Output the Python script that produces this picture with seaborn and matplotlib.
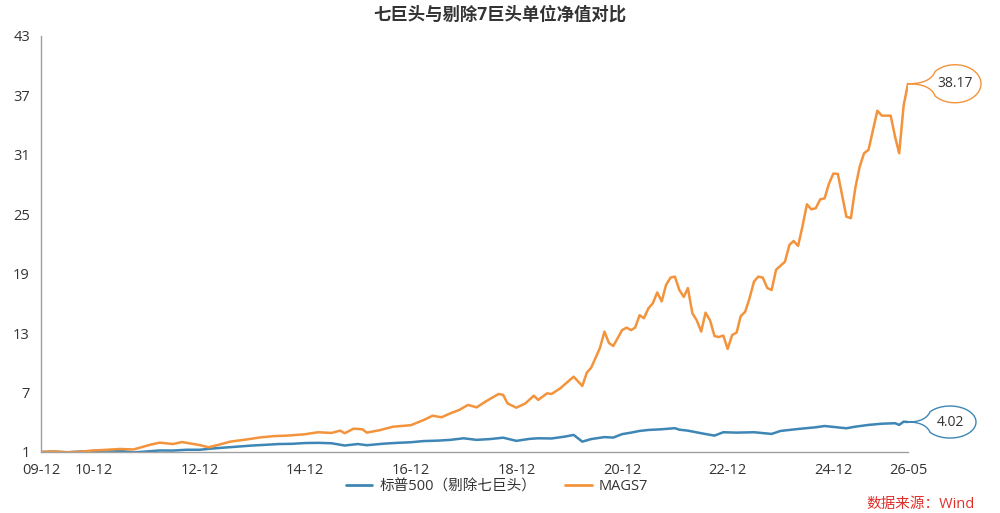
import numpy as np
import pandas as pd
import matplotlib
matplotlib.use('Agg')
import matplotlib.pyplot as plt
import matplotlib.transforms as mtransforms
import matplotlib.dates as mdates
from matplotlib.path import Path
from matplotlib.patches import PathPatch
import seaborn as sns

##################################################################
#### data (monthly points, YYYY-MM)
mags7_dates = ['2009-12', '2010-03', '2010-06', '2010-09', '2010-12', '2011-03', '2011-06', '2011-09',
               '2011-10', '2012-01', '2012-03', '2012-06', '2012-08', '2012-12', '2013-02', '2013-04',
               '2013-07', '2013-11', '2014-02', '2014-05', '2014-08', '2014-12', '2015-03', '2015-06',
               '2015-08', '2015-09', '2015-11', '2016-01', '2016-02', '2016-05', '2016-08', '2016-12',
               '2017-03', '2017-05', '2017-07', '2017-09', '2017-11', '2018-01', '2018-03', '2018-05',
               '2018-08', '2018-09', '2018-10', '2018-12', '2019-02', '2019-04', '2019-05', '2019-07',
               '2019-08', '2019-10', '2020-01', '2020-03', '2020-04', '2020-05', '2020-07', '2020-08',
               '2020-09', '2020-10', '2020-11', '2020-12', '2021-01', '2021-02', '2021-03', '2021-04',
               '2021-05', '2021-06', '2021-07', '2021-08', '2021-09', '2021-10', '2021-11', '2021-12',
               '2022-01', '2022-02', '2022-03', '2022-04', '2022-05', '2022-06', '2022-07', '2022-08',
               '2022-09', '2022-10', '2022-11', '2022-12', '2023-01', '2023-02', '2023-03', '2023-04',
               '2023-05', '2023-06', '2023-07', '2023-08', '2023-09', '2023-10', '2023-11', '2024-01',
               '2024-02', '2024-03', '2024-04', '2024-05', '2024-06', '2024-07', '2024-08', '2024-09',
               '2024-10', '2024-11', '2024-12', '2025-01', '2025-02', '2025-03', '2025-04', '2025-05',
               '2025-06', '2025-07', '2025-08', '2025-09', '2025-10', '2025-11', '2025-12', '2026-01',
               '2026-02', '2026-03', '2026-04', '2026-05']
mags7_values = [1.00, 1.05, 0.96, 1.03, 1.15, 1.22, 1.30, 1.25,
                1.37, 1.75, 1.94, 1.80, 2.00, 1.70, 1.47, 1.68,
                2.04, 2.28, 2.48, 2.60, 2.65, 2.79, 2.99, 2.92,
                3.15, 2.89, 3.35, 3.29, 2.95, 3.20, 3.55, 3.70,
                4.23, 4.66, 4.50, 4.90, 5.24, 5.75, 5.50, 6.08,
                6.86, 6.75, 5.90, 5.47, 5.90, 6.68, 6.25, 6.92,
                6.85, 7.43, 8.60, 7.66, 9.00, 9.50, 11.50, 13.15,
                12.00, 11.70, 12.50, 13.30, 13.55, 13.30, 13.55, 14.80,
                14.50, 15.50, 16.00, 17.10, 16.20, 17.86, 18.60, 18.70,
                17.35, 16.65, 17.55, 15.00, 14.30, 13.15, 15.06, 14.30,
                12.70, 12.60, 12.75, 11.40, 12.80, 13.05, 14.70, 15.15,
                16.50, 18.20, 18.70, 18.60, 17.55, 17.35, 19.40, 20.20,
                21.90, 22.30, 21.80, 23.75, 26.00, 25.50, 25.60, 26.50,
                26.60, 28.10, 29.10, 29.07, 26.80, 24.75, 24.60, 27.60,
                29.80, 31.15, 31.50, 33.50, 35.45, 34.95, 34.95, 34.95,
                32.80, 31.15, 36.00, 38.17]

spx_dates = ['2009-12', '2010-03', '2010-06', '2010-09', '2010-12', '2011-03', '2011-06', '2011-09',
             '2011-12', '2012-03', '2012-06', '2012-09', '2012-12', '2013-03', '2013-06', '2013-09',
             '2013-12', '2014-03', '2014-06', '2014-09', '2014-12', '2015-03', '2015-06', '2015-09',
             '2015-12', '2016-02', '2016-06', '2016-09', '2016-12', '2017-03', '2017-06', '2017-09',
             '2017-12', '2018-03', '2018-06', '2018-09', '2018-12', '2019-03', '2019-05', '2019-08',
             '2019-11', '2020-01', '2020-03', '2020-05', '2020-08', '2020-10', '2020-12', '2021-02',
             '2021-04', '2021-06', '2021-09', '2021-12', '2022-01', '2022-03', '2022-06', '2022-09',
             '2022-11', '2023-02', '2023-06', '2023-10', '2023-12', '2024-04', '2024-08', '2024-10',
             '2025-03', '2025-05', '2025-08', '2025-11', '2026-02', '2026-03', '2026-04', '2026-05']
spx_values = [1.00, 1.03, 0.97, 1.04, 1.10, 1.14, 1.12, 0.95,
              1.05, 1.15, 1.14, 1.22, 1.22, 1.35, 1.45, 1.55,
              1.65, 1.72, 1.80, 1.82, 1.90, 1.92, 1.88, 1.65,
              1.80, 1.68, 1.84, 1.92, 1.98, 2.10, 2.14, 2.22,
              2.38, 2.22, 2.30, 2.44, 2.12, 2.32, 2.38, 2.36,
              2.55, 2.72, 2.04, 2.30, 2.50, 2.45, 2.80, 2.95,
              3.12, 3.22, 3.29, 3.40, 3.25, 3.15, 2.89, 2.65,
              2.99, 2.95, 2.99, 2.82, 3.12, 3.32, 3.49, 3.62,
              3.39, 3.55, 3.73, 3.85, 3.90, 3.73, 4.06, 4.02]

series_names = ['标普500（剔除七巨头）', 'MAGS7']
colors = ['#3d86b6', '#f3933c']
tick_dates = ['2009-12', '2010-12', '2012-12', '2014-12', '2016-12', '2018-12',
              '2020-12', '2022-12', '2024-12', '2026-05']
y_ticks = [1, 7, 13, 19, 25, 31, 37, 43]

df = pd.concat([
    pd.DataFrame({'date': pd.to_datetime(spx_dates), 'value': spx_values, 'series': series_names[0]}),
    pd.DataFrame({'date': pd.to_datetime(mags7_dates), 'value': mags7_values, 'series': series_names[1]}),
])

##################################################################
sns.set_theme(style='white')
plt.rcParams['font.family'] = ['Open Sans', 'Noto Sans CJK SC', 'DejaVu Sans']

fig = plt.figure(figsize=(10, 5.13), dpi=100)
ax = fig.add_axes([0.041, 0.119, 0.867, 0.811])

sns.lineplot(data=df, x='date', y='value', hue='series', hue_order=series_names,
             palette=colors, linewidth=1.8, ax=ax, legend=False)

ax.set_xlim(pd.Timestamp(tick_dates[0]), pd.Timestamp(tick_dates[-1]))
ax.set_ylim(y_ticks[0], y_ticks[-1])
ax.set_yticks(y_ticks)
ax.set_xticks(pd.to_datetime(tick_dates))
ax.xaxis.set_major_formatter(mdates.DateFormatter('%y-%m'))
ax.set_xlabel('')
ax.set_ylabel('')

for s in ['top', 'right']:
    ax.spines[s].set_visible(False)
for s in ['left', 'bottom']:
    ax.spines[s].set_color('#a0a0a0')
    ax.spines[s].set_linewidth(1.0)
ax.tick_params(axis='both', which='major', direction='out', length=5, width=1,
               color='#a0a0a0', labelcolor='#333333', labelsize=10.5, pad=3)

##################################################################
#### end-value "pins"
def pin(ax, date, val, text, color, cx, rx, ry):
    # outline in pixels relative to the data point (tip), converted to inches
    th0 = np.deg2rad(140)
    angs = np.linspace(th0, -th0, 80)
    ex = cx + rx * np.cos(angs)
    ey = ry * np.sin(angs)
    # concave tail from the tip to the ellipse
    t = np.linspace(0, 1, 30)
    up_x = 2 * (1 - t) * t * (cx - rx * 0.95) + t ** 2 * ex[0]
    up_y = t ** 2 * ey[0]
    xs = np.concatenate([up_x, ex, up_x[::-1]]) / 100.0
    ys = np.concatenate([up_y, ey, -up_y[::-1]]) / 100.0
    xnum = mdates.date2num(pd.Timestamp(date))
    trans = fig.dpi_scale_trans + mtransforms.ScaledTranslation(xnum, val, ax.transData)
    patch = PathPatch(Path(np.column_stack([xs, ys])), facecolor='white', edgecolor=color,
                      lw=1.0, transform=trans, clip_on=False, zorder=5)
    ax.add_patch(patch)
    ax.text(cx / 100.0, 0, text, transform=trans, ha='center', va='center',
            fontsize=10, color='#333333', zorder=6, clip_on=False)

pin(ax, mags7_dates[-1], mags7_values[-1], '%.2f' % mags7_values[-1], colors[1], 47, 26, 19)
pin(ax, spx_dates[-1], spx_values[-1], '%.2f' % spx_values[-1], colors[0], 42, 26, 16)

##################################################################
fig.text(0.5, 0.972, '七巨头与剔除7巨头单位净值对比', ha='center', va='center',
         fontsize=12.5, fontweight='bold', color='#333333')

handles = [plt.Line2D([], [], color=c, lw=2) for c in colors]
fig.legend(handles, series_names, loc='center', bbox_to_anchor=(0.497, 0.051), ncol=2,
           frameon=False, fontsize=10.5, handlelength=1.8, handletextpad=0.5,
           columnspacing=2.0, labelcolor='#333333')

fig.text(0.975, 0.016, '数据来源：Wind', ha='right', va='center', fontsize=10.5, color='#e0302a')

plt.savefig('out.png', dpi=100)
